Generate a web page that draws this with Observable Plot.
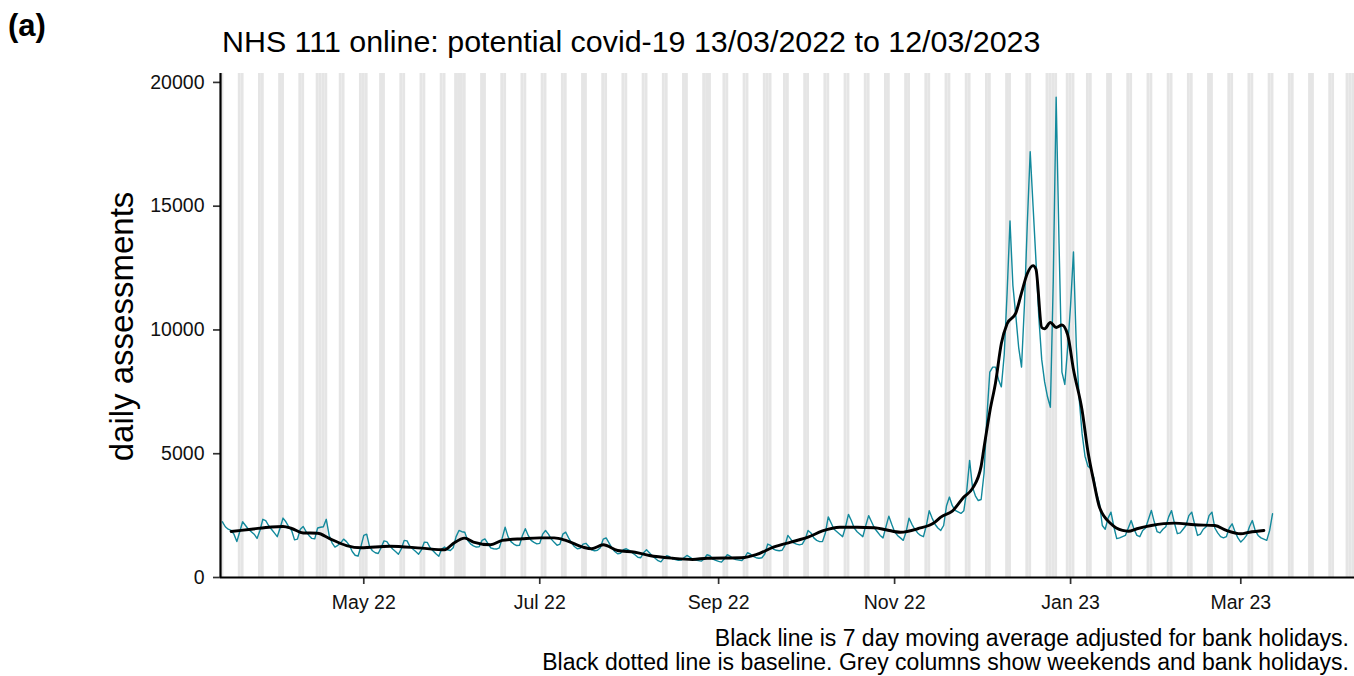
<!DOCTYPE html>
<html>
<head>
<meta charset="utf-8">
<script src="https://cdn.jsdelivr.net/npm/d3@7"></script>
<script src="https://cdn.jsdelivr.net/npm/@observablehq/plot@0.6"></script>
<style>
  html, body { margin: 0; padding: 0; background: #fff; }
  #wrap { position: relative; width: 1354px; height: 676px; overflow: hidden;
          font-family: "Liberation Sans", Arial, sans-serif; color: #000; }
  #wrap .txt { position: absolute; white-space: nowrap; }
  #panel { left: 8px; top: 10px; font-size: 31px; line-height: 31px; font-weight: bold; }
  #title { left: 222px; top: 26.3px; font-size: 30.4px; line-height: 30.4px; }
  #ylab { left: -78.9px; top: 309.5px; width: 400px; height: 33px; font-size: 33px; line-height: 33px;
          text-align: center; transform: rotate(-90deg); transform-origin: 50% 50%; }
  #caption { right: 5px; top: 626px; font-size: 23px; line-height: 24px; text-align: right; }
  #chart { position: absolute; left: 0; top: 0; }
</style>
</head>
<body>
<div id="wrap">
  <div id="chart"></div>
  <div class="txt" id="panel">(a)</div>
  <div class="txt" id="title"></div>
  <div class="txt" id="ylab"></div>
  <div class="txt" id="caption"></div>
</div>
<script>
// ---------------- data ----------------
const titleText = "NHS 111 online: potential covid-19 13/03/2022 to 12/03/2023";
const yLabelText = "daily assessments";
const captionLines = [
  "Black line is 7 day moving average adjusted for bank holidays.",
  "Black dotted line is baseline. Grey columns show weekends and bank holidays."
];

// daily assessments, one value per day starting Sunday 13/03/2022 (rows = weeks Sun..Sat)
const seriesStart = "2022-03-13";
const dailyValues = [
  2250, 2050, 1950, 1900, 1750, 1450, 1850,
  2250, 2100, 1950, 1850, 1750, 1580, 1900,
  2350, 2300, 2100, 1950, 1800, 1650, 2000,
  2400, 2250, 2050, 1900, 1520, 1550, 1950,
  2060, 1850, 1700, 1580, 1560, 2000, 2030,
  2050, 2350, 1700, 1400, 1230, 1300, 1400,
  1550, 1450, 1300, 1050, 900, 860, 1250,
  1700, 1750, 1250, 1080, 1000, 970, 1200,
  1480, 1450, 1280, 1150, 1050, 940, 1150,
  1500, 1480, 1250, 1150, 1050, 940, 1120,
  1430, 1420, 1200, 1080, 960, 860, 1150,
  1230, 1120, 1090, 1200, 1650, 1900, 1850,
  1830, 1500, 1360, 1280, 1230, 1240, 1500,
  1560, 1380, 1200, 1160, 1150, 1200, 1600,
  2030, 1650, 1450, 1350, 1290, 1300, 1700,
  1970, 1700, 1500, 1420, 1360, 1380, 1750,
  1900, 1750, 1550, 1420, 1300, 1350, 1750,
  1830, 1600, 1400, 1250, 1160, 1180, 1350,
  1380, 1250, 1120, 1080, 1100, 1200, 1550,
  1600, 1400, 1200, 1050, 960, 980, 1120,
  1160, 1100, 1000, 920, 820, 800, 1000,
  1120, 1000, 870, 780, 680, 630, 780,
  880, 840, 760, 720, 690, 700, 800,
  890, 820, 740, 700, 680, 660, 760,
  920, 880, 740, 690, 650, 620, 760,
  920, 860, 770, 720, 700, 680, 800,
  1000, 950, 850, 800, 780, 800, 950,
  1350, 1300, 1150, 1100, 1080, 1100, 1300,
  1700, 1550, 1400, 1350, 1320, 1350, 1550,
  1900, 1800, 1600, 1500, 1450, 1450, 1800,
  2450, 2200, 1950, 1850, 1750, 1650, 2050,
  2550, 2300, 2000, 1850, 1750, 1650, 2100,
  2500, 2250, 2000, 1850, 1700, 1600, 2050,
  2480, 2150, 1850, 1700, 1600, 1500, 1850,
  2400, 2150, 1950, 1800, 1700, 1650, 2100,
  2700, 2400, 2150, 2000, 1900, 2100, 2900,
  3250, 2900, 2710, 2650, 2590, 2700, 3500,
  4730, 3650, 3300, 3110, 3150, 4200, 6500,
  8300, 8500, 8500, 8000, 7700, 9000, 11500,
  14400, 11800, 10600, 9300, 8500, 11000, 14300,
  17200, 15000, 12800, 10500, 8800, 7900, 7300,
  6880, 12000, 19400, 13500, 8300, 7800, 9300,
  11000, 13150, 9300, 7200, 5800, 4900, 4500,
  4400, 4050, 3400, 3000, 2100, 1950, 2400,
  2640, 2050, 1570, 1600, 1650, 1700, 2000,
  2300, 1950, 1700, 1650, 1900, 2000, 2350,
  2710, 2250, 1850, 1800, 1950, 2050, 2450,
  2700, 2200, 1770, 1800, 1950, 2100, 2500,
  2640, 2150, 1700, 1750, 1950, 2050, 2500,
  2640, 2000, 1800, 1650, 1600, 1650, 2000,
  2170, 1850, 1600, 1430, 1550, 1700, 2050,
  2300, 1900, 1700, 1600, 1550, 1500, 1900,
  2575
];

// 7 day moving average (black line)
const maDates = [
  "2022-03-16","2022-03-23","2022-03-30","2022-04-03","2022-04-06","2022-04-10","2022-04-15","2022-04-19",
  "2022-04-25","2022-04-30","2022-05-10","2022-05-21","2022-05-29","2022-06-01","2022-06-05","2022-06-08",
  "2022-06-14","2022-06-18","2022-06-25","2022-07-01","2022-07-06","2022-07-10","2022-07-16","2022-07-19",
  "2022-07-23","2022-07-28","2022-08-03","2022-08-08","2022-08-16","2022-08-23","2022-08-28","2022-09-09",
  "2022-09-14","2022-09-20","2022-09-26","2022-10-02","2022-10-07","2022-10-13","2022-10-19","2022-10-25",
  "2022-10-29","2022-11-03","2022-11-09","2022-11-15","2022-11-17","2022-11-21","2022-11-25","2022-11-28",
  "2022-12-01","2022-12-02","2022-12-04","2022-12-06","2022-12-08","2022-12-10","2022-12-13","2022-12-15",
  "2022-12-17","2022-12-19","2022-12-20","2022-12-22","2022-12-23","2022-12-25","2022-12-27","2022-12-29",
  "2022-12-31","2023-01-02","2023-01-05","2023-01-07","2023-01-09","2023-01-11","2023-01-15","2023-01-19",
  "2023-01-21","2023-01-24","2023-01-29","2023-02-06","2023-02-13","2023-02-20","2023-02-24","2023-03-01",
  "2023-03-04","2023-03-09"
];
const maValues = [
  1860, 1950, 2040, 2060, 1980, 1800, 1790, 1580,
  1290, 1200, 1265, 1185, 1120, 1375, 1590, 1430,
  1320, 1500, 1565, 1600, 1600, 1500, 1225, 1160,
  1320, 1090, 1020, 890, 780, 730, 780, 795,
  920, 1225, 1430, 1630, 1880, 2030, 2030, 2010,
  1930, 1830, 1970, 2235, 2440, 2680, 3250, 3600,
  4500, 5250, 6700, 7880, 9450, 10250, 10680, 11500,
  12280, 12600, 12450, 10100, 10050, 10300, 10100, 10200,
  9800, 8400, 6750, 5100, 3900, 2850, 2170, 1900,
  1870, 1970, 2100, 2195, 2130, 2100, 1900, 1765,
  1830, 1900
];

// grey columns: weekends and these bank holidays
const bankHolidays = ["2022-04-15","2022-04-18","2022-05-02","2022-06-02","2022-06-03","2022-08-29",
                      "2022-09-19","2022-12-26","2022-12-27","2023-01-02","2023-04-07","2023-04-10"];
const columnRange = ["2022-03-13", "2023-04-10"];

const xDomain = ["2022-03-12T08:00:00Z", "2023-04-09T10:00:00Z"];
const xTickDates = ["2022-05-01","2022-07-01","2022-09-01","2022-11-01","2023-01-01","2023-03-01"];
const xTickLabels = ["May 22","Jul 22","Sep 22","Nov 22","Jan 23","Mar 23"];
const yDomain = [0, 20360];
const yTicks = [0, 5000, 10000, 15000, 20000];

// ---------------- build ----------------
document.getElementById("title").textContent = titleText;
document.getElementById("ylab").textContent = yLabelText;
document.getElementById("caption").innerHTML = captionLines.map(s => `<div>${s}</div>`).join("");

const parse = s => new Date(s.length === 10 ? s + "T00:00:00Z" : s);
const start = parse(seriesStart);
const daily = dailyValues.map((v, i) => ({date: d3.utcDay.offset(start, i), value: v}));
const ma = maDates.map((d, i) => ({date: parse(d), value: maValues[i]}));

const bh = new Set(bankHolidays);
const fmtISO = d3.utcFormat("%Y-%m-%d");
const greyDays = d3.utcDays(parse(columnRange[0]), parse(columnRange[1]))
  .filter(d => d.getUTCDay() === 0 || d.getUTCDay() === 6 || bh.has(fmtISO(d)));
const half = 12 * 3600 * 1000;

const tickDates = xTickDates.map(parse);
const tickLabelOf = d => xTickLabels[tickDates.findIndex(t => +t === +d)];

const chart = Plot.plot({
  width: 1354,
  height: 620,
  marginLeft: 220,
  marginRight: 0,
  marginTop: 73,
  marginBottom: 43,
  style: {fontFamily: '"Liberation Sans", Arial, sans-serif', fontSize: "19.5px", color: "#111", background: "transparent"},
  x: {type: "utc", domain: xDomain.map(parse)},
  y: {domain: yDomain},
  marks: [
    Plot.rect(greyDays, {x1: d => new Date(+d - half), x2: d => new Date(+d + half), fill: "#e5e5e5"}),
    Plot.line(daily, {x: "date", y: "value", stroke: "#12899c", strokeWidth: 1.4}),
    Plot.line(ma, {x: "date", y: "value", stroke: "#000", strokeWidth: 2.9, curve: "monotone-x"}),
    Plot.axisX({ticks: tickDates, tickFormat: tickLabelOf, tickSize: 7, tickPadding: 11,
                stroke: "#333", strokeWidth: 1.7, label: null}),
    Plot.axisY({ticks: yTicks, tickFormat: d => String(d), tickSize: 7, tickPadding: 9,
                stroke: "#333", strokeWidth: 1.7, label: null}),
    Plot.ruleY([0], {stroke: "#000", strokeWidth: 2.2}),
    Plot.ruleX([parse(xDomain[0])], {stroke: "#000", strokeWidth: 2.2})
  ]
});
document.getElementById("chart").appendChild(chart);
</script>
</body>
</html>
